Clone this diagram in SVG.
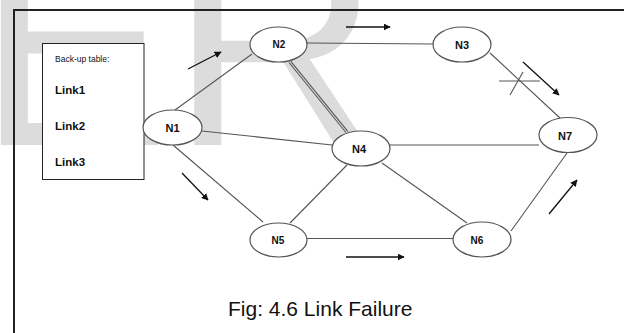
<svg xmlns="http://www.w3.org/2000/svg" width="624" height="333" viewBox="0 0 624 333">
  <style>
    .wm { font-family: "Liberation Sans", Arial, sans-serif; font-size: 290px; fill: #dcdcdc; }
    .frame { stroke: #222; stroke-width: 2; fill: none; }
    .node ellipse { fill: #fff; stroke: #555; stroke-width: 1.2; }
    .node text { font-family: "Liberation Sans", Arial, sans-serif; font-weight: bold; fill: #111; text-anchor: middle; }
    .edge { stroke: #555; stroke-width: 1.1; fill: none; }
    .flow { stroke: #111; stroke-width: 1.3; fill: none; marker-end: url(#head); }
    .tbl { font-family: "Liberation Sans", Arial, sans-serif; fill: #111; }
    .cap { font-family: "Liberation Sans", Arial, sans-serif; font-size: 21px; fill: #111; }
  </style>
  <defs>
    <marker id="head" viewBox="0 0 10 10" refX="9" refY="5" markerWidth="7" markerHeight="7" markerUnits="userSpaceOnUse" orient="auto">
      <path d="M0,0 L10,5 L0,10 Z" fill="#111"/>
    </marker>
  </defs>

  <rect width="624" height="333" fill="#fff"/>

  <!-- background watermark lettering -->
  <text class="wm" x="-23" y="145">ER</text>

  <!-- page frame (left and top rules) -->
  <path class="frame" d="M14,333 L14,10 L624,10"/>

  <!-- back-up table -->
  <g id="backup-table">
    <rect x="42.5" y="43.5" width="101.5" height="136" fill="#fff" stroke="#222" stroke-width="1"/>
    <text class="tbl" x="55" y="62" font-size="8.5">Back-up table:</text>
    <text class="tbl" x="55" y="94" font-size="11.5" font-weight="bold">Link1</text>
    <text class="tbl" x="55" y="130" font-size="11.5" font-weight="bold">Link2</text>
    <text class="tbl" x="55" y="166" font-size="11.5" font-weight="bold">Link3</text>
  </g>

  <!-- links between nodes -->
  <g id="connectors">
    <line class="edge" x1="175" y1="110" x2="252" y2="54"/>
    <line class="edge" x1="307" y1="43" x2="433" y2="44"/>
    <!-- N2-N4 is drawn as a doubled link -->
    <line class="edge" x1="289" y1="62.5" x2="346" y2="132.5"/>
    <line class="edge" x1="290.8" y1="61.3" x2="347.8" y2="131.3"/>
    <line class="edge" x1="202" y1="131" x2="332" y2="145"/>
    <line class="edge" x1="173" y1="145" x2="263" y2="222"/>
    <line class="edge" x1="390" y1="145" x2="539" y2="145"/>
    <line class="edge" x1="347" y1="165" x2="290" y2="223"/>
    <line class="edge" x1="382" y1="163" x2="467" y2="223"/>
    <line class="edge" x1="307" y1="238.5" x2="453" y2="238.5"/>
    <line class="edge" x1="490" y1="53" x2="560" y2="118"/>
    <line class="edge" x1="511" y1="231" x2="567" y2="153"/>

    <!-- failed link mark on N3-N7 -->
    <line class="edge" x1="499" y1="81" x2="540" y2="81"/>
    <line class="edge" x1="510" y1="95" x2="523" y2="72"/>

    <!-- traffic direction arrows -->
    <line class="flow" x1="188" y1="69" x2="221" y2="52"/>
    <line class="flow" x1="346" y1="27" x2="390" y2="27"/>
    <line class="flow" x1="523" y1="62" x2="559" y2="95"/>
    <line class="flow" x1="549" y1="214" x2="577" y2="180"/>
    <line class="flow" x1="346" y1="257" x2="404" y2="257"/>
    <line class="flow" x1="182" y1="173" x2="208" y2="200"/>
  </g>

  <g id="N1" class="node">
    <ellipse cx="172.5" cy="127.5" rx="29.5" ry="17.5"/>
    <text x="172.5" y="132" font-size="11">N1</text>
  </g>
  <g id="N2" class="node">
    <ellipse cx="278.5" cy="44.5" rx="28.5" ry="17.5"/>
    <text x="279" y="48" font-size="10" font-weight="normal">N2</text>
  </g>
  <g id="N3" class="node">
    <ellipse cx="462" cy="44.5" rx="29" ry="17.5"/>
    <text x="462" y="49" font-size="11">N3</text>
  </g>
  <g id="N4" class="node">
    <ellipse cx="361" cy="148.5" rx="29" ry="17.5"/>
    <text x="359" y="153" font-size="11">N4</text>
  </g>
  <g id="N5" class="node">
    <ellipse cx="278.5" cy="240" rx="28.5" ry="17"/>
    <text x="278" y="244" font-size="10">N5</text>
  </g>
  <g id="N6" class="node">
    <ellipse cx="482" cy="239.5" rx="29" ry="17.5"/>
    <text x="477" y="244" font-size="10">N6</text>
  </g>
  <g id="N7" class="node">
    <ellipse cx="568" cy="135" rx="29" ry="17.5"/>
    <text x="565" y="140" font-size="11">N7</text>
  </g>

  <text class="cap" x="228" y="316">Fig: 4.6 Link Failure</text>
</svg>
